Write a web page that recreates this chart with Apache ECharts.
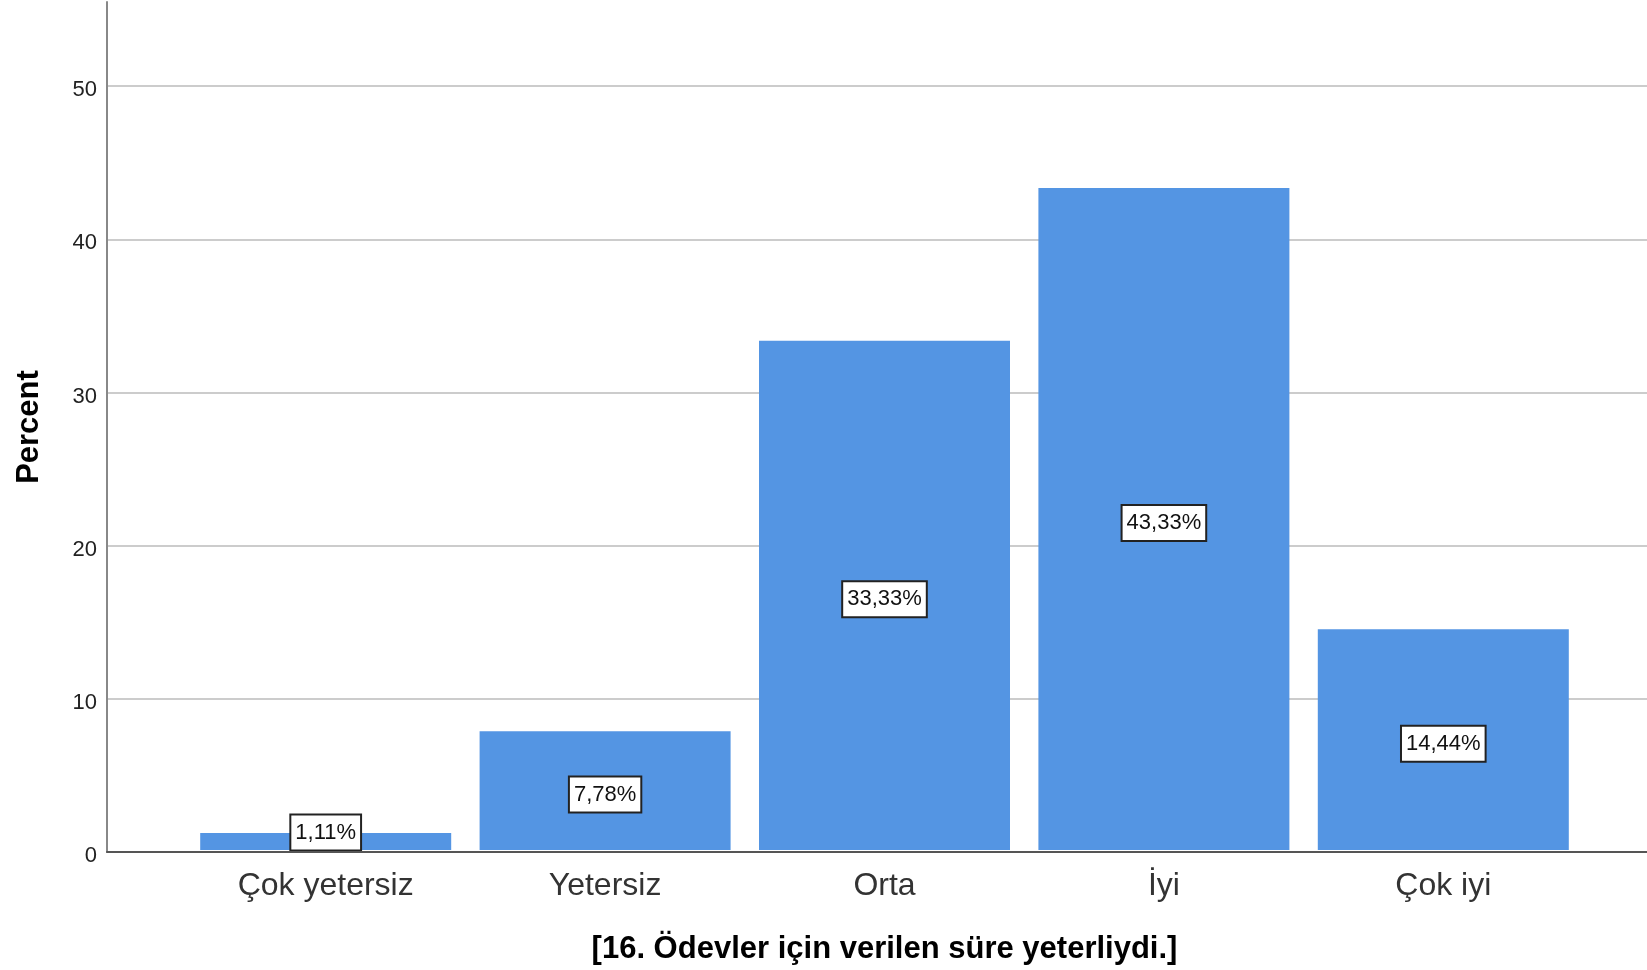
<!DOCTYPE html>
<html>
<head>
<meta charset="utf-8">
<script src="https://cdn.jsdelivr.net/npm/echarts@6/dist/echarts.min.js"></script>
<style>
  html, body { margin: 0; padding: 0; background: #ffffff; }
  #chart { width: 1647px; height: 970px; }
</style>
</head>
<body>
<div id="chart"></div>
<script>
const categories = ['Çok yetersiz', 'Yetersiz', 'Orta', 'İyi', 'Çok iyi'];
const percentValues = [1.11, 7.78, 33.33, 43.33, 14.44];
const valueLabels = ['1,11%', '7,78%', '33,33%', '43,33%', '14,44%'];
const yTicks = [0, 10, 20, 30, 40, 50];
const xTitle = '[16. Ödevler için verilen süre yeterliydi.]';
const yTitle = 'Percent';

const FONT = '"Liberation Sans", Arial, sans-serif';
const chart = echarts.init(document.getElementById('chart'), null, { renderer: 'canvas' });

const seriesData = percentValues.map((v, i) => {
  const item = { value: v, labelText: valueLabels[i] };
  if (v < 2.5) item.label = { offset: [0, -9] };
  return item;
});

const AXIS_TOP = 55.5;
const TICK_MAX = yTicks[yTicks.length - 1];
const plotTop = 2, plotBottom = 118, plotH = 970 - plotTop - plotBottom;
const gridTop2 = plotTop + plotH * (AXIS_TOP - TICK_MAX) / AXIS_TOP;

const option = {
  animation: false,
  backgroundColor: '#ffffff',
  grid: [
    { left: 107, right: 0, top: plotTop, bottom: plotBottom },
    { left: 186, right: 64, top: plotTop, bottom: plotBottom },
    { left: 107, right: 0, top: gridTop2, bottom: plotBottom }
  ],
  xAxis: [
    {
      gridIndex: 0, type: 'value', min: 0, max: 1, z: 10,
      axisLine: { show: true, lineStyle: { color: '#555555', width: 2 } },
      axisTick: { show: false }, axisLabel: { show: false }, splitLine: { show: false }
    },
    {
      gridIndex: 1, type: 'category', data: categories,
      axisLine: { show: false }, axisTick: { show: false },
      axisLabel: { color: '#333333', fontFamily: FONT, fontSize: 32, margin: 20 },
      name: xTitle, nameLocation: 'middle', nameGap: 84,
      nameTextStyle: { color: '#000000', fontFamily: FONT, fontSize: 31, fontWeight: 'bold' }
    },
    {
      gridIndex: 2, type: 'value', min: 0, max: 1, show: false,
      splitLine: { show: false }
    }
  ],
  yAxis: [
    {
      gridIndex: 0, type: 'value', min: 0, max: AXIS_TOP, z: 10,
      axisLine: { show: true, lineStyle: { color: '#888888', width: 2 } },
      axisTick: { show: false }, axisLabel: { show: false },
      splitLine: { show: false },
      name: yTitle, nameLocation: 'middle', nameGap: 62, nameRotate: 90,
      nameTextStyle: { color: '#000000', fontFamily: FONT, fontSize: 31, fontWeight: 'bold' }
    },
    {
      gridIndex: 1, type: 'value', min: 0, max: AXIS_TOP, show: false,
      splitLine: { show: false }
    },
    {
      gridIndex: 2, type: 'value', min: 0, max: TICK_MAX, interval: 10,
      axisLine: { show: false }, axisTick: { show: false },
      axisLabel: {
        margin: 10,
        formatter: v => '{t|' + v + '}',
        rich: { t: { color: '#222222', fontFamily: FONT, fontSize: 22, padding: [8, 0, 0, 0] } }
      },
      splitLine: { show: true, lineStyle: { color: '#cccccc', width: 2 } },
      z: 1
    }
  ],
  series: [
    {
      type: 'bar', xAxisIndex: 1, yAxisIndex: 1,
      data: seriesData, barWidth: 251,
      itemStyle: { color: '#5495e3' },
      label: {
        show: true, position: 'inside', offset: [0, 4],
        formatter: p => p.data.labelText,
        color: '#111111', fontFamily: FONT, fontSize: 22,
        backgroundColor: '#ffffff', borderColor: '#222222', borderWidth: 2,
        padding: [7, 4, 5, 4]
      },
      z: 3
    }
  ]
};
chart.setOption(option);
</script>
</body>
</html>
